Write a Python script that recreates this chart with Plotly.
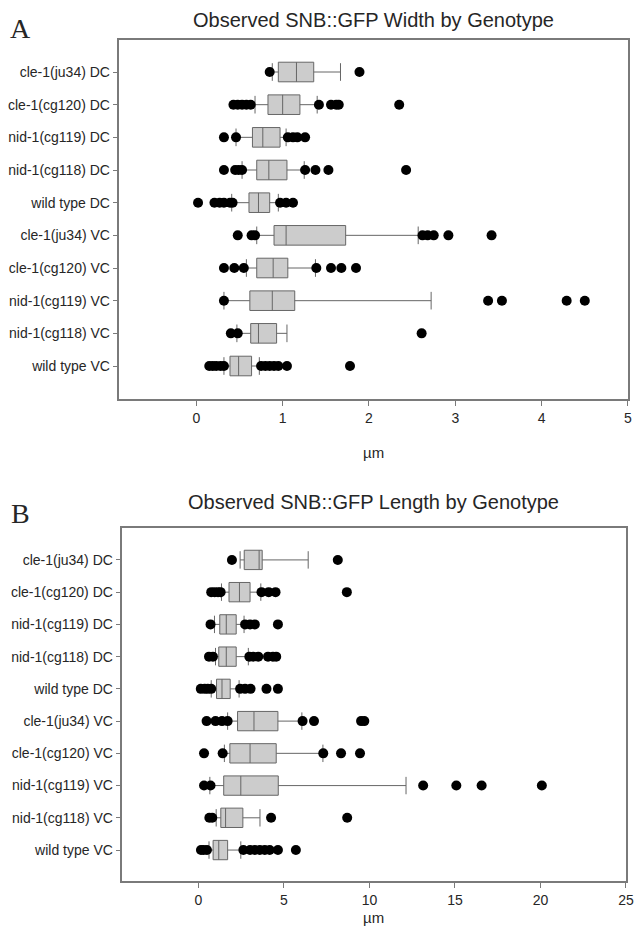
import plotly.graph_objects as go

# ---------------- data ----------------
categories = ["cle-1(ju34) DC", "cle-1(cg120) DC", "nid-1(cg119) DC", "nid-1(cg118) DC",
              "wild type DC", "cle-1(ju34) VC", "cle-1(cg120) VC", "nid-1(cg119) VC",
              "nid-1(cg118) VC", "wild type VC"]

# Panel A: width (um)
width_low = [0.88, 0.68, 0.46, 0.53, 0.41, 0.70, 0.58, 0.32, 0.47, 0.32]
width_q1 = [0.95, 0.83, 0.65, 0.70, 0.61, 0.90, 0.70, 0.62, 0.63, 0.39]
width_med = [1.16, 1.00, 0.77, 0.84, 0.72, 1.04, 0.89, 0.88, 0.72, 0.49]
width_q3 = [1.36, 1.20, 0.97, 1.05, 0.85, 1.73, 1.06, 1.14, 0.93, 0.64]
width_high = [1.67, 1.40, 1.04, 1.25, 0.95, 2.57, 1.38, 2.72, 1.05, 0.73]
width_outliers = [
    [0.85, 1.89],
    [0.43, 0.48, 0.53, 0.58, 0.63, 1.42, 1.56, 1.62, 1.65, 2.35],
    [0.32, 0.46, 1.06, 1.12, 1.17, 1.26],
    [0.32, 0.45, 0.49, 0.53, 1.26, 1.38, 1.53, 2.43],
    [0.02, 0.21, 0.27, 0.32, 0.39, 0.42, 0.97, 1.04, 1.12],
    [0.48, 0.64, 0.68, 2.62, 2.68, 2.75, 2.92, 3.42],
    [0.32, 0.44, 0.55, 1.39, 1.56, 1.68, 1.85],
    [0.32, 3.38, 3.54, 4.29, 4.50],
    [0.40, 0.48, 2.61],
    [0.15, 0.19, 0.23, 0.28, 0.32, 0.75, 0.80, 0.85, 0.90, 0.95, 1.05, 1.78],
]

# Panel B: length (um)
length_low = [2.44, 1.35, 0.94, 1.00, 0.75, 1.71, 1.52, 0.67, 1.04, 0.62]
length_q1 = [2.68, 1.79, 1.25, 1.19, 1.06, 2.29, 1.84, 1.48, 1.31, 0.86]
length_med = [3.55, 2.40, 1.63, 1.63, 1.38, 3.25, 3.02, 2.48, 1.59, 1.19]
length_q3 = [3.73, 3.02, 2.21, 2.21, 1.86, 4.65, 4.55, 4.67, 2.60, 1.71]
length_high = [6.42, 3.65, 2.67, 2.92, 2.38, 6.05, 7.28, 12.14, 3.60, 2.48]
length_outliers = [
    [1.96, 8.15],
    [0.75, 0.95, 1.15, 1.30, 3.69, 4.11, 4.51, 8.68],
    [0.71, 2.73, 3.02, 3.30, 4.65],
    [0.62, 0.85, 2.98, 3.21, 3.50, 4.07, 4.36, 4.55],
    [0.14, 0.37, 0.55, 0.75, 2.44, 2.73, 3.05, 3.98, 4.65],
    [0.48, 1.00, 1.38, 1.71, 6.09, 6.76, 9.51, 9.70],
    [0.33, 1.42, 7.30, 8.34, 9.45],
    [0.33, 0.71, 13.14, 15.08, 16.56, 20.08],
    [0.64, 0.81, 4.25, 8.70],
    [0.15, 0.30, 0.50, 2.63, 3.02, 3.30, 3.59, 3.88, 4.17, 4.65, 5.70],
]

x_ticks_a = [0, 1, 2, 3, 4, 5]
x_ticks_b = [0, 5, 10, 15, 20, 25]
title_a = "Observed SNB::GFP Width by Genotype"
title_b = "Observed SNB::GFP Length by Genotype"
x_label = "µm"

# ---------------- styling ----------------
W, H = 640, 930
FONT = "Liberation Sans, Arial, sans-serif"
FRAME = "#7a7a7a"
BOXLINE = "#666666"
BOXFILL = "#cccccc"
TXT = "#262626"

fig = go.Figure()


def add_panel(xa, ya, low, q1, med, q3, high, outliers):
    fig.add_trace(go.Box(
        y=categories, q1=q1, median=med, q3=q3,
        lowerfence=low, upperfence=high,
        orientation="h", boxpoints=False,
        fillcolor=BOXFILL, line=dict(color=BOXLINE, width=1),
        width=0.6, whiskerwidth=0.9,
        xaxis=xa, yaxis=ya, showlegend=False, hoverinfo="skip",
    ))
    xs, ys = [], []
    for cat, vals in zip(categories, outliers):
        for v in vals:
            xs.append(v)
            ys.append(cat)
    fig.add_trace(go.Scatter(
        x=xs, y=ys, mode="markers",
        marker=dict(color="black", size=10, line=dict(width=0)),
        xaxis=xa, yaxis=ya, showlegend=False, hoverinfo="skip",
    ))


add_panel("x", "y", width_low, width_q1, width_med, width_q3, width_high, width_outliers)
add_panel("x2", "y2", length_low, length_q1, length_med, length_q3, length_high, length_outliers)

cat_bottom_up = categories[::-1]


def xax(domain, rng, ticks):
    return dict(domain=domain, range=rng, tickvals=ticks, ticktext=[str(t) for t in ticks],
                ticks="outside", ticklen=5, tickwidth=1, tickcolor=FRAME,
                showline=True, linecolor=FRAME, linewidth=1.5, mirror=True,
                showgrid=False, zeroline=False, ticklabelstandoff=0,
                ticklabeloverflow="allow",
                tickfont=dict(family=FONT, size=14, color=TXT))


def yax(domain, rng, anchor):
    return dict(domain=domain, range=rng, type="category",
                categoryorder="array", categoryarray=cat_bottom_up,
                ticks="outside", ticklen=5, tickwidth=1, tickcolor=FRAME,
                showline=True, linecolor=FRAME, linewidth=1.5, mirror=True,
                showgrid=False, zeroline=False, anchor=anchor,
                tickfont=dict(family=FONT, size=14, color=TXT))


def px_x(p):
    return p / W


def px_y(p):
    return 1 - p / H


fig.update_layout(
    width=W, height=H,
    margin=dict(l=0, r=0, t=0, b=0),
    paper_bgcolor="white", plot_bgcolor="white",
    xaxis=xax([px_x(121), px_x(636)], [-0.89, 5.001], x_ticks_a) | dict(anchor="y"),
    yaxis=yax([px_y(399), px_y(40)], [-1.01, 9.98], "x"),
    xaxis2=xax([px_x(124), px_x(634)], [-4.44, 25.005], x_ticks_b) | dict(anchor="y2"),
    yaxis2=yax([px_y(881), px_y(528)], [-0.96, 9.99], "x2"),
    font=dict(family=FONT, color=TXT),
)

annots = [
    dict(text=title_a, x=px_x(378), y=px_y(20), size=20, family=FONT),
    dict(text=title_b, x=px_x(378), y=px_y(502), size=20, family=FONT),
    dict(text="A", x=px_x(21), y=px_y(28), size=28, family="Liberation Serif, Times New Roman, serif"),
    dict(text="B", x=px_x(21), y=px_y(513), size=28, family="Liberation Serif, Times New Roman, serif"),
    dict(text=x_label, x=px_x(378), y=px_y(452), size=15, family=FONT),
    dict(text=x_label, x=px_x(378), y=px_y(917), size=15, family=FONT),
]
for a in annots:
    fig.add_annotation(text=a["text"], x=a["x"], y=a["y"], xref="paper", yref="paper",
                       xanchor="center", yanchor="middle", showarrow=False,
                       font=dict(family=a["family"], size=a["size"], color=TXT))

post = (
    "document.body.style.margin='0';"
    "document.documentElement.style.overflow='hidden';"
    "document.querySelectorAll('.modebar-container').forEach(function(m){m.style.display='none';});"
)
fig.write_html("out.html", post_script=post)
